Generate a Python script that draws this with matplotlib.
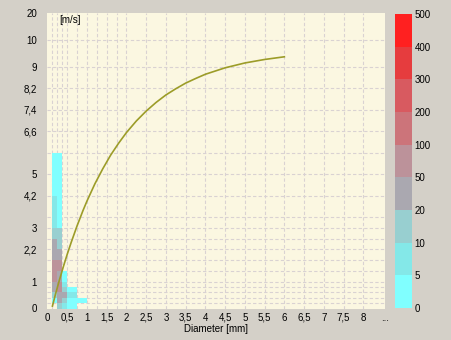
import numpy as np
import matplotlib
matplotlib.use("Agg")
import matplotlib.pyplot as plt
from matplotlib.colors import ListedColormap, BoundaryNorm
import matplotlib.cm as cm

# ---------------- data ----------------
# velocity class edges [m/s]
v_edges = [0, 0.2, 0.4, 0.6, 0.8, 1.0, 1.4, 1.8, 2.2, 2.6, 3.0, 3.4, 4.2,
           5.0, 5.8, 6.6, 7.4, 8.2, 9.0, 10.0, 20.0]
# diameter class edges [mm]
d_edges = [0, 0.125, 0.25, 0.375, 0.5, 0.75, 1.0, 1.25, 1.5, 1.75, 2.0, 2.5,
           3.0, 3.5, 4.0, 4.5, 5.0, 5.5, 6.0, 6.5, 7.0, 7.5, 8.0, 8.55]

# counts for the first diameter classes (0.125-0.25, 0.25-0.375, 0.375-0.5,
# 0.5-0.75, 0.75-1.0), one row per velocity class from the bottom
counts_d1 = [0, 3, 15, 30, 30, 60, 60, 30, 30, 15, 7, 7, 3, 2]
counts_d2 = [15, 30, 30, 60, 60, 30, 60, 30, 15, 15, 3, 3, 3, 2]
counts_d3 = [8, 15, 25, 15, 8, 4, 0, 0, 0, 0, 0, 0, 0, 0]
counts_d4 = [3, 4, 7, 3, 0, 0, 0, 0, 0, 0, 0, 0, 0, 0]
counts_d5 = [0, 3, 0, 0, 0, 0, 0, 0, 0, 0, 0, 0, 0, 0]

# reference fall-velocity curve
curve_d = [0.125, 0.2, 0.3, 0.4, 0.5, 0.6, 0.75, 0.9, 1.0, 1.2, 1.4, 1.6,
           1.8, 2.0, 2.25, 2.5, 2.75, 3.0, 3.25, 3.5, 3.75, 4.0, 4.5, 5.0,
           5.5, 6.0]
curve_v = [0.09, 0.52, 1.05, 1.55, 2.02, 2.46, 3.08, 3.65, 4.00, 4.64, 5.20,
           5.71, 6.15, 6.55, 6.98, 7.35, 7.67, 7.95, 8.18, 8.39, 8.56, 8.72,
           8.96, 9.14, 9.27, 9.37]

cb_levels = [0, 5, 10, 20, 50, 100, 200, 300, 400, 500]
cb_colors = ['#80ffff', '#84e8e8', '#98cfd0', '#aaa8b0', '#bc929a',
             '#cc747a', '#d85a60', '#e63c3e', '#ff2020']

x_ticks = [0, 0.5, 1, 1.5, 2, 2.5, 3, 3.5, 4, 4.5, 5, 5.5, 6, 6.5, 7, 7.5, 8]
y_ticks = [0, 1, 2.2, 3, 4.2, 5, 6.6, 7.4, 8.2, 9, 10, 20]

# ---------------- figure ----------------
W, H = 452, 340
fig = plt.figure(figsize=(W / 100, H / 100), dpi=100)
fig.patch.set_facecolor('#d4d0c8')
plt.rcParams['font.family'] = ['Liberation Sans', 'DejaVu Sans']

ax = fig.add_axes([47.5 / W, (H - 308.5) / H, (385 - 47.5) / W, (308.5 - 13) / H])
ax.set_facecolor('#fbf7e1')


def fwd(v):
    v = np.asarray(v, dtype=float)
    return np.where(v <= 10, v, 10 + (v - 10) / 10)


def inv(u):
    u = np.asarray(u, dtype=float)
    return np.where(u <= 10, u, 10 + (u - 10) * 10)


ax.set_yscale('function', functions=(fwd, inv))

# grid
grid_kw = dict(color='#d9d2d2', lw=0.8, ls=(0, (3, 2)), zorder=1)
for d in d_edges[1:-1]:
    ax.axvline(d, **grid_kw)
for v in v_edges[1:-1]:
    ax.axhline(v, **grid_kw)

# histogram
nv = len(v_edges) - 1
nd = len(d_edges) - 1
Z = np.zeros((nv, nd))
cols = [counts_d1, counts_d2, counts_d3, counts_d4, counts_d5]
for j, c in enumerate(cols):
    Z[:len(c), j + 1] = c
Zm = np.ma.masked_equal(Z, 0)
cmap = ListedColormap(cb_colors)
norm = BoundaryNorm(cb_levels, cmap.N)
ax.pcolormesh(d_edges, v_edges, Zm, cmap=cmap, norm=norm, zorder=2)

ax.plot(curve_d, curve_v, color='#9c9c28', lw=1.2, zorder=3)

ax.set_xlim(0, 8.55)
ax.set_ylim(0, 20)
ax.set_xticks(x_ticks + [8.55])
ax.set_xticklabels([f"{t:g}".replace('.', ',') for t in x_ticks] + ['...'])
ax.set_yticks(y_ticks)
ax.set_yticklabels([f"{t:g}".replace('.', ',') for t in y_ticks])
ax.tick_params(axis='both', length=0, labelsize=7)
ax.tick_params(axis='y', pad=7.5)
ax.tick_params(axis='x', pad=3)
for s in ax.spines.values():
    s.set_visible(False)
ax.set_xlabel('Diameter [mm]', fontsize=7, labelpad=1)
ax.text(0.29, 17.3, '[m/s]', fontsize=7, va='center', ha='left', zorder=4)

# colorbar
cax = fig.add_axes([395 / W, (H - 308) / H, 17 / W, 294 / H])
sm = cm.ScalarMappable(norm=norm, cmap=cmap)
cb = fig.colorbar(sm, cax=cax, boundaries=cb_levels, ticks=cb_levels,
                  spacing='uniform')
cb.outline.set_visible(False)
cb.ax.tick_params(length=0, labelsize=7, pad=2)
cb.ax.set_yticklabels([str(l) for l in cb_levels])

fig.savefig('out.png', dpi=100, facecolor=fig.get_facecolor())
